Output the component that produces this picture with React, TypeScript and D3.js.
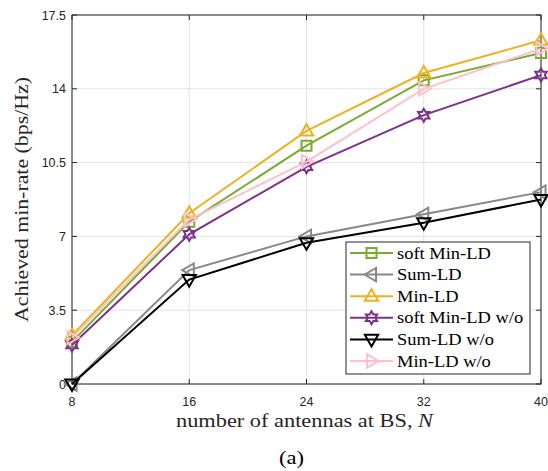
import React from 'react';
import * as d3 from 'd3';

// antennas at the BS
const antennas = [8, 16, 24, 32, 40];

// achieved min-rate (bps/Hz)
const softMinLD = [2.0, 7.7, 11.3, 14.4, 15.7];
const sumLD = [0, 5.4, 7.0, 8.05, 9.1];
const minLD = [2.3, 8.1, 12.0, 14.75, 16.3];
const softMinLDwo = [1.85, 7.1, 10.3, 12.75, 14.65];
const sumLDwo = [0, 4.95, 6.7, 7.65, 8.75];
const minLDwo = [2.2, 7.8, 10.55, 14.0, 15.9];

const yTicks = [0, 3.5, 7, 10.5, 14, 17.5];
const yTickLabels = ['0', '3.5', '7', '10.5', '14', '17.5'];

const seriesNames = ['soft Min-LD', 'Sum-LD', 'Min-LD', 'soft Min-LD w/o', 'Sum-LD w/o', 'Min-LD w/o'];

const series = [
  { name: seriesNames[0], values: softMinLD, color: '#77AC30', marker: 'square' },
  { name: seriesNames[1], values: sumLD, color: '#888888', marker: 'left' },
  { name: seriesNames[2], values: minLD, color: '#EDB120', marker: 'up' },
  { name: seriesNames[3], values: softMinLDwo, color: '#7E2F8E', marker: 'hex' },
  { name: seriesNames[4], values: sumLDwo, color: '#000000', marker: 'down' },
  { name: seriesNames[5], values: minLDwo, color: '#FFC0CB', marker: 'right' },
];

const W = 548;
const H = 471;
const margin = { left: 72, top: 15, right: 7, bottom: 87 };

// marker outline, centred on 0,0
function markerPath(kind: string): string {
  const r = 7;
  if (kind === 'square') return 'M-5,-5H5V5H-5Z';
  if (kind === 'up') return `M0,${-r}L${r * 0.95},${r * 0.65}L${-r * 0.95},${r * 0.65}Z`;
  if (kind === 'down') return `M0,${r}L${r * 0.95},${-r * 0.65}L${-r * 0.95},${-r * 0.65}Z`;
  if (kind === 'left') return `M${-r},0L${r * 0.65},${-r * 0.95}L${r * 0.65},${r * 0.95}Z`;
  if (kind === 'right') return `M${r},0L${-r * 0.65},${-r * 0.95}L${-r * 0.65},${r * 0.95}Z`;
  // hexagram
  const pts: string[] = [];
  for (let i = 0; i < 12; i++) {
    const a = (Math.PI / 6) * i - Math.PI / 2;
    const rr = i % 2 === 0 ? 6.5 : 6.5 / Math.sqrt(3);
    pts.push(`${(rr * Math.cos(a)).toFixed(2)},${(rr * Math.sin(a)).toFixed(2)}`);
  }
  return 'M' + pts.join('L') + 'Z';
}

export default function App() {
  const x = d3.scaleLinear().domain([8, 40]).range([margin.left, W - margin.right]);
  const y = d3.scaleLinear().domain([0, 17.5]).range([H - margin.bottom, margin.top]);
  const line = d3
    .line<number>()
    .x((_, i) => x(antennas[i]))
    .y((d) => y(d));

  const x0 = x(8);
  const x1 = x(40);
  const y0 = y(0);
  const y1 = y(17.5);
  const axisColor = '#262626';
  const tickFont = '"Liberation Sans", Arial, sans-serif';
  const serif = '"Liberation Serif", "Times New Roman", serif';

  // legend box
  const lg = { x: 346, y: 242, w: 184, h: 132, row: 21.6 };

  return (
    <svg width={W} height={H} style={{ position: 'absolute', left: 0, top: 0, background: '#fff' }}>
      <rect x={0} y={0} width={W} height={H} fill="#fff" />
      {/* grid */}
      {antennas.map((t) => (
        <line key={'gx' + t} x1={x(t)} x2={x(t)} y1={y0} y2={y1} stroke="#e3e3e3" strokeWidth={1} />
      ))}
      {yTicks.map((t) => (
        <line key={'gy' + t} x1={x0} x2={x1} y1={y(t)} y2={y(t)} stroke="#e3e3e3" strokeWidth={1} />
      ))}
      {/* box */}
      <rect x={x0} y={y1} width={x1 - x0} height={y0 - y1} fill="none" stroke={axisColor} strokeWidth={1} />
      {/* ticks */}
      {antennas.map((t) => (
        <g key={'tx' + t}>
          <line x1={x(t)} x2={x(t)} y1={y0} y2={y0 - 5} stroke={axisColor} />
          <line x1={x(t)} x2={x(t)} y1={y1} y2={y1 + 5} stroke={axisColor} />
          <text x={x(t)} y={y0 + 22} textAnchor="middle" fontFamily={tickFont} fontSize={12.5} fill={axisColor}>
            {t}
          </text>
        </g>
      ))}
      {yTicks.map((t, i) => (
        <g key={'ty' + t}>
          <line x1={x0} x2={x0 + 5} y1={y(t)} y2={y(t)} stroke={axisColor} />
          <line x1={x1} x2={x1 - 5} y1={y(t)} y2={y(t)} stroke={axisColor} />
          <text x={x0 - 6} y={y(t) + 4.5} textAnchor="end" fontFamily={tickFont} fontSize={12.5} fill={axisColor}>
            {yTickLabels[i]}
          </text>
        </g>
      ))}
      {/* series */}
      {series.map((s) => (
        <g key={s.name}>
          <path d={line(s.values) || ''} fill="none" stroke={s.color} strokeWidth={2} />
          {s.values.map((v, i) => (
            <path
              key={i}
              d={markerPath(s.marker)}
              transform={`translate(${x(antennas[i])},${y(v)})`}
              fill="none"
              stroke={s.color}
              strokeWidth={2}
            />
          ))}
        </g>
      ))}
      {/* legend */}
      <rect x={lg.x} y={lg.y} width={lg.w} height={lg.h} fill="#fff" stroke={axisColor} strokeWidth={1} />
      {series.map((s, i) => {
        const cy = lg.y + 11 + i * lg.row;
        return (
          <g key={'lg' + s.name}>
            <line x1={lg.x + 4} x2={lg.x + 47} y1={cy} y2={cy} stroke={s.color} strokeWidth={2} />
            <path d={markerPath(s.marker)} transform={`translate(${lg.x + 25.5},${cy})`} fill="none" stroke={s.color} strokeWidth={2} />
            <text transform={`translate(${lg.x + 51},${cy + 5.5}) scale(1.12,1)`} fontFamily={serif} fontSize={16.5} fill="#000">
              {s.name}
            </text>
          </g>
        );
      })}
      {/* axis labels */}
      <text
        transform={`translate(28,${(y0 + y1) / 2}) rotate(-90)`}
        textAnchor="middle"
        fontFamily={serif}
        fontSize={19.5}
        textLength={245}
        lengthAdjust="spacingAndGlyphs"
        fill={axisColor}
      >
        Achieved min-rate (bps/Hz)
      </text>
      <text
        x={304.5}
        y={427}
        textAnchor="middle"
        fontFamily={serif}
        fontSize={19.5}
        textLength={257}
        lengthAdjust="spacingAndGlyphs"
        fill={axisColor}
      >
        number of antennas at BS, <tspan fontStyle="italic">N</tspan>
      </text>
      <text x={291.5} y={464} textAnchor="middle" fontFamily={serif} fontSize={18} textLength={25} lengthAdjust="spacingAndGlyphs" fill="#000">
        (a)
      </text>
    </svg>
  );
}
